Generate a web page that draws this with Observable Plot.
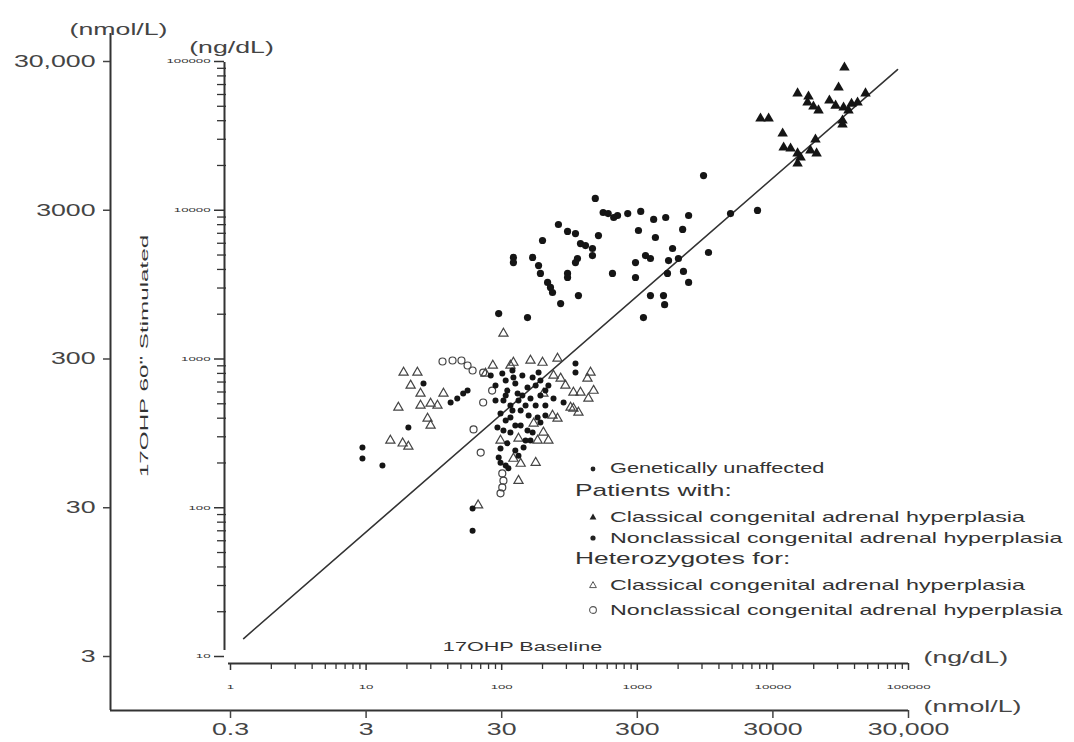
<!DOCTYPE html>
<html><head><meta charset="utf-8">
<script src="https://cdn.jsdelivr.net/npm/d3@7"></script>
<script src="https://cdn.jsdelivr.net/npm/@observablehq/plot@0.6"></script>
<style>
body{margin:0;background:#fff;}
#wrap{position:relative;width:1074px;height:742px;font-family:"Liberation Sans",Arial,sans-serif;color:#333;overflow:hidden;}
.lg{position:absolute;white-space:nowrap;line-height:1;transform-origin:0 50%;transform:scaleX(1.55);color:#333;}
.sym{position:absolute;width:12px;height:12px;}
</style></head><body><div id="wrap"></div>
<script>
// ---- tick values and labels ----
const decadeX = [1, 10, 100, 1000, 10000, 100000];
const outerXLabels = ["0.3", "3", "30", "300", "3000", "30,000"];
const innerXLabels = ["1", "10", "100", "1000", "10000", "100000"];
const decadeY = [10, 100, 1000, 10000, 100000];
const outerYLabels = ["3", "30", "300", "3000", "30,000"];
const innerYLabels = ["10", "100", "1000", "10000", "100000"];

// ---- data (ng/dL): baseline (x) vs 60' stimulated (y) ----
const unaffectedBaseline = [9.4,9.4,13.2,61,61,42,47,52,56,101,122,142,169,110,131,155,163,184,193,95,98,350,350,98,116,138,93,103,138,155,241,286,110,145,26.5,20.5,133,116,150,126,107,178,210,116,126,193,103,163,107,210,
  90,107,120,142,158,178,126,150,107,120,187,221,90,169,133,112,210,83,98,193];
const unaffectedStimulated = [254,214,192,99,70,510,542,586,613,799,751,775,751,613,586,643,542,404,374,218,201,932,811,430,404,451,346,331,357,331,542,510,271,254,684,346,526,487,487,684,717,664,487,321,243,717,526,283,192,613,
  664,569,451,569,417,487,357,283,386,837,811,664,526,321,224,184,417,775,250,569];

const classicalBaseline = [33700,30500,15200,18300,26100,18000,19900,21700,33200,48200,42100,36100,8100,9300,32600,32600,11800,20600,12000,13500,15200,16000,21000,15200,18900,38000,29000];
const classicalStimulated = [91200,66900,61000,58200,54700,53000,49800,46900,49100,61000,53000,46900,41400,41400,40100,37700,32800,29900,26400,26000,24100,22600,24100,20600,25200,52000,50500];

const nonclassicalBaseline = [490,560,610,670,715,850,1060,1320,1620,2390,4870,7700,3080,262,306,350,517,1020,1360,2160,200,381,415,467,467,122,122,169,362,350,1150,1250,1820,1700,2010,970,187,3350,193,306,306,656,2190,1670,970,218,229,237,2390,368,1250,1560,1590,272,95,155,1110];
const nonclassicalStimulated = [12000,9660,9500,8940,9220,9500,9820,8670,8940,9220,9500,9970,17100,8020,7200,6970,6760,7310,6560,7430,6260,5970,5790,5530,4960,4820,4450,4820,4740,4450,4960,4740,5530,4590,4740,4450,4250,5200,3760,3760,3530,3760,3880,3760,3530,3270,3030,2800,3270,2670,2670,2670,2320,2360,2020,1900,1900];

const hetClassicalBaseline = [18.9,23.9,21.3,25.2,17.3,25.2,29.9,33.6,37.2,28.4,29.9,15.1,18.6,20.5,103,122,163,200,258,116,429,476,436,381,338,338,368,237,258,203,172,138,178,133,133,184,98,241,272,76,203,322,122,67,86,221,295,452];
const hetClassicalStimulated = [811,811,664,586,472,487,502,487,586,398,357,283,271,258,1484,946,977,946,1008,904,740,613,542,595,595,465,437,417,398,321,369,198,201,152,292,283,283,775,740,799,586,472,214,104,904,283,664,811];

const hetNonclassicalBaseline = [36.6,43.4,50.5,56,61,73,73,62,70,101,103,101,98,85];
const hetNonclassicalStimulated = [962,977,977,904,837,811,510,336,235,170,152,137,125,613];

const lineBaseline = [1.25, 83000];
const lineStimulated = [13.2, 88300];

const legendLabels = ["Genetically unaffected", "Patients with:", "Classical congenital adrenal hyperplasia", "Nonclassical congenital adrenal hyperplasia", "Heterozygotes for:", "Classical congenital adrenal hyperplasia", "Nonclassical congenital adrenal hyperplasia"];
const legendSymbols = ["dot", null, "triangle", "dotBig", null, "triangleOpen", "circleOpen"];

// ---- minor tick positions (axis decoration) ----
const minorX = []; for (let e = 0; e < 5; e++) for (let m = 2; m <= 9; m++) minorX.push(m * Math.pow(10, e));
const minorY = []; for (let e = 1; e < 5; e++) for (let m = 2; m <= 9; m++) minorY.push(m * Math.pow(10, e));

const fmt = (vals, labels) => d => { const i = vals.indexOf(d); return i < 0 ? "" : labels[i]; };
const ink = "#333";

const svg = Plot.plot({
  width: 1074, height: 742,
  marginLeft: 110, marginRight: 166, marginTop: 33, marginBottom: 32,
  style: {fontFamily: "'Liberation Sans', Arial, sans-serif", color: ink, background: "white"},
  x: {type: "log", domain: [1, 100000], range: [230, 908]},
  y: {type: "log", domain: [10, 100000], range: [656, 61]},
  marks: [
    // outer (nmol/L) axes
    Plot.ruleX([1], {dx: -120, stroke: ink, strokeWidth: 2}),
    Plot.ruleY([10], {dy: 54, stroke: ink, strokeWidth: 2}),
    Plot.axisY(decadeY, {anchor: "left", tickSize: 7, tickPadding: 8, tickFormat: fmt(decadeY, outerYLabels), fontSize: 17, label: null, strokeWidth: 1.5, color: "#444"}),
    Plot.axisX(decadeX, {anchor: "bottom", tickSize: 8, tickPadding: 4, tickFormat: fmt(decadeX, outerXLabels), fontSize: 17, label: null, strokeWidth: 1.5, color: "#444"}),
    // inner (ng/dL) axes
    Plot.ruleX([1], {y1: 10, y2: 100000, dx: -6, insetTop: -6, insetBottom: -1, stroke: ink, strokeWidth: 2}),
    Plot.ruleY([10], {x1: 1, x2: 100000, dy: 7, insetLeft: -2, stroke: ink, strokeWidth: 2}),
    Plot.axisY(decadeY, {anchor: "left", dx: 114, tickSize: 10, tickPadding: 4, tickFormat: fmt(decadeY, innerYLabels), fontSize: 6, label: null, strokeWidth: 1.5}),
    Plot.axisY(minorY, {anchor: "left", dx: 116, tickSize: 9, tickFormat: () => "", label: null, strokeWidth: 1.3}),
    Plot.axisX(decadeX, {anchor: "bottom", dy: -47, tickSize: 7, tickPadding: 14, tickFormat: fmt(decadeX, innerXLabels), fontSize: 6, label: null, strokeWidth: 1.5}),
    Plot.axisX(minorX, {anchor: "bottom", dy: -47, tickSize: 6, tickFormat: () => "", label: null, strokeWidth: 1.3}),
    // axis titles
    Plot.text(["(nmol/L)"], {frameAnchor: "top-left", dx: 8, dy: -11, fontSize: 17, textAnchor: "middle", fill: "#444"}),
    Plot.text(["(ng/dL)"], {frameAnchor: "top-left", dx: 121, dy: 7, fontSize: 17, textAnchor: "middle", fill: "#444"}),
    Plot.text(["(ng/dL)"], {frameAnchor: "bottom-right", dx: 15, dy: -48, fontSize: 17, textAnchor: "start", fill: "#444"}),
    Plot.text(["(nmol/L)"], {frameAnchor: "bottom-right", dx: 15, dy: 1, fontSize: 17, textAnchor: "start", fill: "#444"}),
    Plot.text(["17OHP Baseline"], {frameAnchor: "bottom-left", dx: 412, dy: -60, fontSize: 12, textAnchor: "middle", fill: ink}),
    Plot.text(["17OHP 60\" Stimulated"], {frameAnchor: "left", dx: 34, dy: -16, fontSize: 11, rotate: -90, textAnchor: "middle", fill: ink}),
    // regression line
    Plot.line(lineBaseline, {x: lineBaseline, y: lineStimulated, stroke: ink, strokeWidth: 1.6}),
    // points
    Plot.dot(hetClassicalBaseline, {x: hetClassicalBaseline, y: hetClassicalStimulated, symbol: "triangle", r: 3.4, fill: "none", stroke: "#444", strokeWidth: 1.2}),
    Plot.dot(hetNonclassicalBaseline, {x: hetNonclassicalBaseline, y: hetNonclassicalStimulated, symbol: "circle", r: 3.5, fill: "none", stroke: "#444", strokeWidth: 1.2}),
    Plot.dot(unaffectedBaseline, {x: unaffectedBaseline, y: unaffectedStimulated, r: 3, fill: "#151515"}),
    Plot.dot(nonclassicalBaseline, {x: nonclassicalBaseline, y: nonclassicalStimulated, r: 3.6, fill: "#151515"}),
    Plot.dot(classicalBaseline, {x: classicalBaseline, y: classicalStimulated, symbol: "triangle", r: 3.9, fill: "#151515"})
  ]
});

const wrap = document.getElementById("wrap");
wrap.appendChild(svg);

// horizontal stretch of the lettering, as in the reference
const factors = {"17px": 1.57, "12px": 1.8, "11px": 2.2, "6px": 2.2};
svg.querySelectorAll("text").forEach(t => {
  const f = factors[getComputedStyle(t).fontSize];
  if (!f || !t.textContent) return;
  const len = t.getComputedTextLength();
  if (len > 0) { t.setAttribute("textLength", len * f); t.setAttribute("lengthAdjust", "spacingAndGlyphs"); }
});

// legend
const rowY = [469, 492, 517, 538, 560, 585, 610];
const symSvg = {
  dot: '<circle cx="6" cy="6" r="2.4" fill="#222"/>',
  dotBig: '<circle cx="6" cy="6" r="2.6" fill="#222"/>',
  triangle: '<path d="M6,2.6L9.4,8.6L2.6,8.6Z" fill="#222"/>',
  triangleOpen: '<path d="M6,2.6L9.4,8.6L2.6,8.6Z" fill="none" stroke="#555" stroke-width="1"/>',
  circleOpen: '<circle cx="6" cy="6" r="3.4" fill="none" stroke="#555" stroke-width="1.1"/>'
};
legendLabels.forEach((label, i) => {
  const s = legendSymbols[i];
  const fs = s ? (i === 0 ? 14 : 15) : 17;
  const d = document.createElement("div");
  d.className = "lg";
  d.style.fontSize = fs + "px";
  d.style.left = (s ? 610 : 575) + "px";
  d.style.top = (rowY[i] - fs * 0.56) + "px";
  d.textContent = label;
  wrap.appendChild(d);
  if (s) {
    const sv = document.createElementNS("http://www.w3.org/2000/svg", "svg");
    sv.setAttribute("class", "sym");
    sv.setAttribute("viewBox", "0 0 12 12");
    sv.style.left = "587px";
    sv.style.top = (rowY[i] - 6) + "px";
    sv.innerHTML = symSvg[s];
    wrap.appendChild(sv);
  }
});
</script></body></html>
